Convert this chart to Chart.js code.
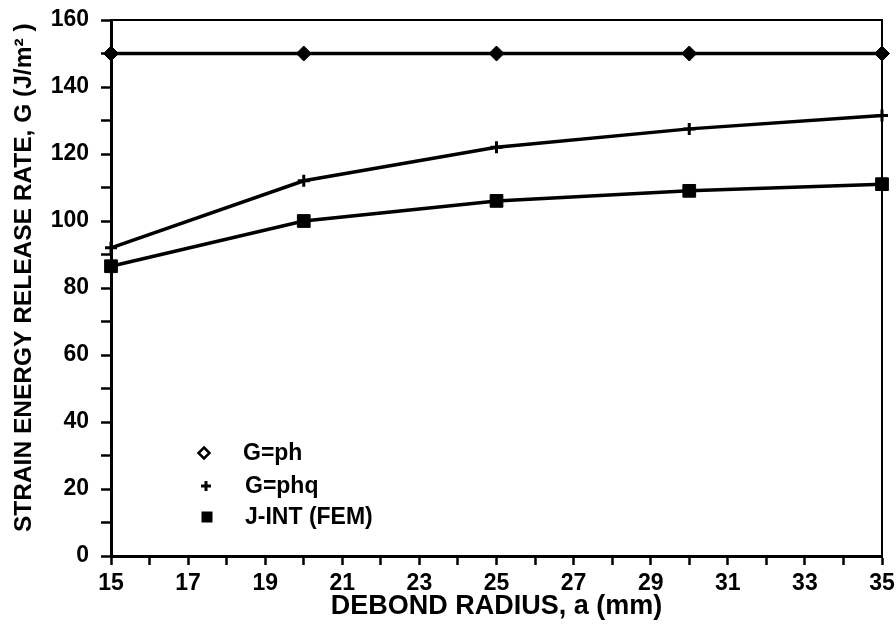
<!DOCTYPE html>
<html><head><meta charset="utf-8">
<script src="https://cdn.jsdelivr.net/npm/chart.js@4.4.1/dist/chart.umd.min.js"></script>
<style>html,body{margin:0;padding:0;background:#fff}#wrap{width:896px;height:630px}</style>
</head><body><div id="wrap"><canvas id="c" width="896" height="630"></canvas></div>
<script>
const radius = [15, 20, 25, 30, 35];
const gPh = [150, 150, 150, 150, 150];
const gPhq = [92, 112, 122, 127.5, 131.5];
const jInt = [86.5, 100, 106, 109, 111];
const seriesLabels = ['G=ph', 'G=phq', 'J-INT (FEM)'];
const xLabelTicks = [15, 17, 19, 21, 23, 25, 27, 29, 31, 33, 35];
const yLabelTicks = [0, 20, 40, 60, 80, 100, 120, 140, 160];
const xTitle = 'DEBOND RADIUS, a (mm)';
const yTitle = '\u00A0\u00A0\u00A0STRAIN ENERGY RELEASE RATE, G (J/m\u00B2 )';

const FONT = 'Liberation Sans, Arial, Helvetica, sans-serif';

function pts(ys) { return radius.map((x, i) => ({x: x, y: ys[i]})); }

const framePlugin = {
  id: 'frame',
  afterDraw(chart) {
    const ctx = chart.ctx, a = chart.chartArea;
    ctx.save();
    ctx.strokeStyle = '#000';
    ctx.lineWidth = 2;
    ctx.beginPath();
    ctx.moveTo(a.left, a.top);
    ctx.lineTo(a.right, a.top);
    ctx.lineTo(a.right, a.bottom);
    ctx.stroke();
    ctx.restore();
  }
};

const legendPlugin = {
  id: 'innerLegend',
  afterDraw(chart) {
    const ctx = chart.ctx, a = chart.chartArea;
    const mx = [93, 95, 96];
    const my = [433, 466, 497];
    ctx.save();
    ctx.fillStyle = '#000';
    ctx.strokeStyle = '#000';
    let x = a.left + mx[0], y = a.top + my[0];
    ctx.lineWidth = 2.5;
    ctx.beginPath();
    ctx.moveTo(x, y - 5.5); ctx.lineTo(x + 5.5, y); ctx.lineTo(x, y + 5.5); ctx.lineTo(x - 5.5, y); ctx.closePath();
    ctx.stroke();
    x = a.left + mx[1]; y = a.top + my[1];
    ctx.lineWidth = 3;
    ctx.beginPath();
    ctx.moveTo(x - 5, y); ctx.lineTo(x + 5, y);
    ctx.moveTo(x, y - 5); ctx.lineTo(x, y + 5);
    ctx.stroke();
    x = a.left + mx[2]; y = a.top + my[2];
    ctx.fillRect(x - 5.5, y - 5.5, 11, 11);
    ctx.font = 'bold 23px ' + FONT;
    ctx.textBaseline = 'middle';
    ctx.textAlign = 'left';
    const tx = [132, 134, 134];
    chart.data.datasets.forEach((d, i) => {
      ctx.fillText(d.label, a.left + tx[i], a.top + my[i] + 1);
    });
    ctx.restore();
  }
};

new Chart(document.getElementById('c'), {
  type: 'line',
  data: {
    datasets: [
      { label: seriesLabels[0], data: pts(gPh), borderColor: '#000', backgroundColor: '#000', borderWidth: 3.5,
        pointStyle: 'rectRot', pointRadius: 7.5, pointBorderWidth: 1, tension: 0, clip: false },
      { label: seriesLabels[1], data: pts(gPhq), borderColor: '#000', backgroundColor: '#000', borderWidth: 3.5,
        pointStyle: 'cross', pointRadius: 6, pointBorderWidth: 3, tension: 0, clip: false },
      { label: seriesLabels[2], data: pts(jInt), borderColor: '#000', backgroundColor: '#000', borderWidth: 3.5,
        pointStyle: 'rect', pointRadius: 9, pointBorderWidth: 1, tension: 0, clip: false }
    ]
  },
  options: {
    responsive: false,
    animation: false,
    devicePixelRatio: 1,
    layout: { padding: { top: 20, right: 14, bottom: 0, left: 0 } },
    plugins: { legend: { display: false }, tooltip: { enabled: false } },
    scales: {
      x: {
        type: 'linear', min: 15, max: 35,
        afterFit(s) { s.height = 74; s.paddingLeft = 0; s.paddingRight = 0; },
        border: { display: true, color: '#000', width: 3 },
        grid: { display: true, drawOnChartArea: false, drawTicks: true, tickLength: 9, tickWidth: 2.5, tickColor: '#000', color: '#000' },
        ticks: {
          stepSize: 1, autoSkip: false, maxRotation: 0, padding: 5, color: '#000',
          font: { family: FONT, size: 23, weight: 'bold' },
          callback: v => xLabelTicks.includes(v) ? String(v) : ''
        },
        title: { display: true, text: xTitle, color: '#000', padding: { top: 0, bottom: 7 },
          font: { family: FONT, size: 27, weight: 'bold' } }
      },
      y: {
        type: 'linear', min: 0, max: 160,
        afterFit(s) { s.width = 111; s.paddingTop = 0; s.paddingBottom = 0; },
        border: { display: true, color: '#000', width: 3 },
        grid: { display: true, drawOnChartArea: false, drawTicks: true, tickLength: 10, tickWidth: 2.5, tickColor: '#000', color: '#000' },
        ticks: {
          stepSize: 10, autoSkip: false, padding: 12, color: '#000',
          font: { family: FONT, size: 23, weight: 'bold' },
          callback: v => yLabelTicks.includes(v) ? String(v) : ''
        },
        title: { display: true, text: yTitle, color: '#000', padding: { top: 10, bottom: 0 },
          font: { family: FONT, size: 24.5, weight: 'bold' } }
      }
    }
  },
  plugins: [framePlugin, legendPlugin]
});
</script>
</body></html>
